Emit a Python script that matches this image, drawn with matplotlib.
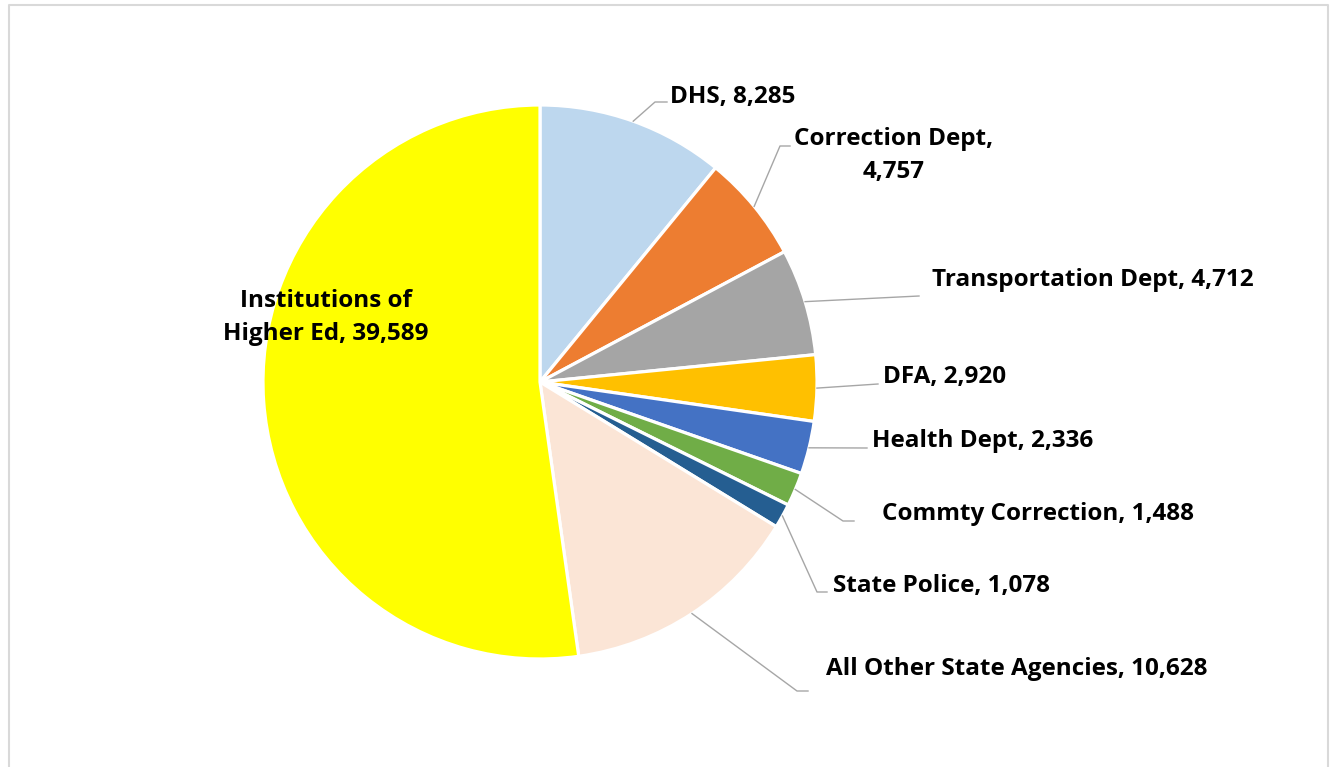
import matplotlib
matplotlib.use('Agg')
import matplotlib.pyplot as plt
import numpy as np

agencies = ['DHS', 'Correction Dept', 'Transportation Dept', 'DFA', 'Health Dept',
            'Commty Correction', 'State Police', 'All Other State Agencies',
            'Institutions of\nHigher Ed']
employees = [8285, 4757, 4712, 2920, 2336, 1488, 1078, 10628, 39589]
colors = ['#BDD7EE', '#ED7D31', '#A5A5A5', '#FFC000', '#4472C4',
          '#70AD47', '#255E91', '#FBE5D6', '#FFFF00']
label_fmt = ['{n}, {v}', '{n},\n{v}', '{n}, {v}', '{n}, {v}', '{n}, {v}',
             '{n}, {v}', '{n}, {v}', '{n}, {v}', '{n}, {v}']

# label layout in pixels (x, first baseline, alignment) and leader elbows
W, H = 1330, 767
label_pos = [(670, 103, 'left'), (894, 145, 'center'), (932, 286, 'left'),
             (883, 383, 'left'), (872, 447, 'left'), (882, 520, 'left'),
             (833, 592, 'left'), (826, 675, 'left'), (326, 307, 'center')]
elbows = [(655, 102, 12), (780, 146, 10), (919, 296, 0), (878, 384, 0),
          (867, 448, 0), (843, 521, 11), (817, 592, 10), (797, 691, 11), None]
line_gap = 33

plt.rcParams['font.family'] = ['Open Sans', 'DejaVu Sans']

fig = plt.figure(figsize=(W / 100, H / 100), dpi=100)
ax = fig.add_axes([0, 0, 1, 1])

cx, cy, r = 540, 382, 277
wedges, _ = ax.pie(employees, colors=colors, startangle=-90, counterclock=True,
                   center=(cx, cy), radius=r,
                   wedgeprops=dict(edgecolor='white', linewidth=2.3))

ax.set_xlim(0, W)
ax.set_ylim(H, 0)
ax.set_aspect('auto')
ax.axis('off')

for i, w in enumerate(wedges):
    text = label_fmt[i].format(n=agencies[i], v=f'{employees[i]:,}')
    x, y, ha = label_pos[i]
    for k, line in enumerate(text.split('\n')):
        ax.text(x, y + k * line_gap, line, ha=ha, va='baseline',
                fontsize=17.5, fontweight='bold', color='black')
    if elbows[i] is not None:
        mid = np.deg2rad((w.theta1 + w.theta2) / 2)
        sx, sy = cx + r * np.cos(mid), cy + r * np.sin(mid)
        ex, ey, run = elbows[i]
        ax.plot([sx, ex, ex + run], [sy, ey, ey], color='#A6A6A6', lw=1)

# chart frame
ax.plot([8.5, 8.5, 1328, 1328], [H, 4.5, 4.5, H], color='#D9D9D9', lw=1.5)

fig.savefig('out.png', dpi=100)
